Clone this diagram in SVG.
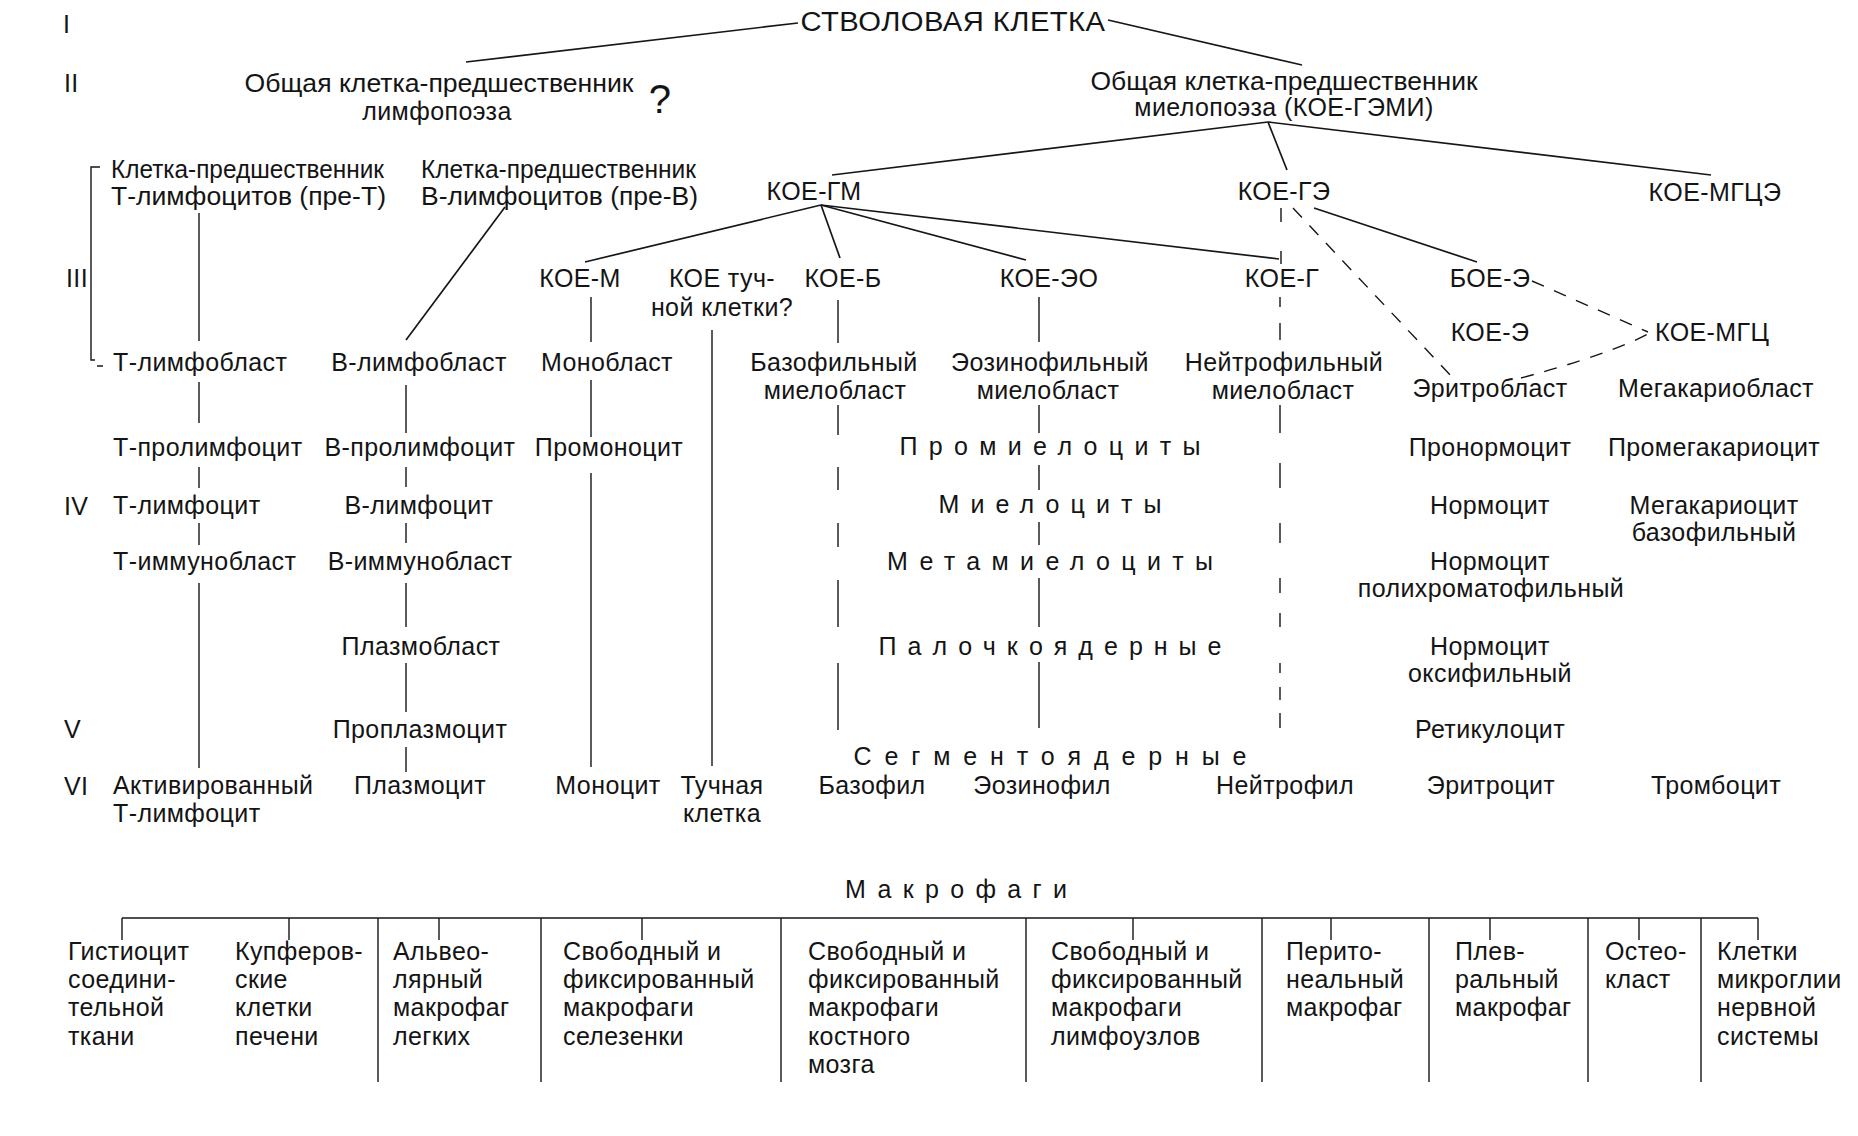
<svg xmlns="http://www.w3.org/2000/svg" width="1858" height="1136" viewBox="0 0 1858 1136">
<style>
text{font-family:"Liberation Sans",Arial,sans-serif;font-size:25px;fill:#141414;letter-spacing:0.4px}
.m{text-anchor:middle}
.sp{letter-spacing:0}
.ln{stroke:#161616;stroke-width:1.7;fill:none;stroke-linecap:butt}
.v{stroke:#161616;stroke-width:1.4;fill:none}
.d{stroke-dasharray:13 11}
</style>
<rect width="1858" height="1136" fill="#fff"/>

<g id="connectors">
  <!-- stem cell -->
  <path class="ln" d="M798,23 L466,62"/>
  <path class="ln" d="M1108,20 L1302,65"/>
  <!-- myelopoiesis fan -->
  <path class="ln" d="M1268,122 L832,175"/>
  <path class="ln" d="M1268,122 L1287,170"/>
  <path class="ln" d="M1268,122 L1711,175"/>
  <!-- KOE-GM fan -->
  <path class="ln" d="M821,205 L585,262"/>
  <path class="ln" d="M821,205 L840,258"/>
  <path class="ln" d="M821,205 L1026,260"/>
  <path class="ln" d="M821,205 L1279,259"/>
  <!-- KOE-GE branches -->
  <path class="ln" d="M1314,208 L1477,262"/>
  <path class="v d" d="M1293,208 L1452,377"/>
  <path class="v" d="M1281,208 V222 M1281,251 V264"/>
  <path class="v d" d="M1532,281 L1648,332"/>
  <path class="v d" d="M1521,378 Q1610,354 1648,334"/>
  <!-- bracket -->
  <path class="v" d="M100,167 H91 V360 H95 M97,366 H103"/>
  <!-- T lineage -->
  <path class="v" d="M199,213 V341 M199,382 V423 M199,467 V488 M199,523 V545 M199,583 V768"/>
  <!-- B lineage -->
  <path class="ln" d="M505,207 L406,340"/>
  <path class="v" d="M406,385 V433 M406,467 V487 M406,523 V543 M406,583 V627 M406,663 V712 M406,747 V772"/>
  <!-- monocyte -->
  <path class="v" d="M591,297 V342 M591,380 V437 M591,473 V767"/>
  <!-- mast cell -->
  <path class="v" d="M712,330 V766"/>
  <!-- basophil -->
  <path class="v" d="M838,300 V343 M838,405 V435 M838,467 V490 M838,523 V547 M838,580 V627 M838,663 V730"/>
  <!-- eosinophil -->
  <path class="v" d="M1039,297 V342 M1039,405 V433 M1039,465 V490 M1039,522 V545 M1039,578 V627 M1039,662 V728"/>
  <!-- neutrophil (dashed) -->
  <path class="v" d="M1280,297 V307 M1280,323 V340 M1280,405 V433 M1280,463 V488 M1280,523 V543 M1280,578 V593 M1280,613 V627 M1280,663 V673 M1280,687 V700 M1280,713 V728"/>
  <!-- macrophage bar -->
  <path class="ln" d="M122,918 H1758"/>
  <path class="v" d="M122,918 V940 M289,918 V940 M439,918 V940 M642,918 V940 M1133,918 V940 M1331,918 V940 M1490,918 V940 M1639,918 V940 M1758,918 V940"/>
  <path class="v" d="M378,918 V1082 M541,918 V1082 M781,918 V1082 M1026,918 V1082 M1262,918 V1082 M1429,918 V1082 M1588,918 V1082 M1701,918 V1082"/>
</g>

<g id="levels">
  <text x="63" y="33">I</text>
  <text x="64" y="92">II</text>
  <text x="66" y="287">III</text>
  <text x="64" y="515">IV</text>
  <text x="64" y="738">V</text>
  <text x="64" y="795">VI</text>
</g>

<g id="stem"><text class="m" x="953" y="31" style="font-size:27px" textLength="305" lengthAdjust="spacingAndGlyphs">СТВОЛОВАЯ КЛЕТКА</text></g>
<g id="lymph-progenitor">
  <text class="m sp" x="439" y="92" textLength="389" lengthAdjust="spacingAndGlyphs">Общая клетка-предшественник</text>
  <text class="m" x="437" y="120">лимфопоэза</text>
  <text class="m" x="660" y="113" style="font-size:40px">?</text>
</g>
<g id="myelo-progenitor">
  <text class="m sp" x="1284" y="90" textLength="387" lengthAdjust="spacingAndGlyphs">Общая клетка-предшественник</text>
  <text class="m" x="1284" y="116">миелопоэза (КОЕ-ГЭМИ)</text>
</g>
<g id="pre-t"><text class="sp" x="111" y="178" textLength="273" lengthAdjust="spacingAndGlyphs">Клетка-предшественник</text><text class="sp" x="111" y="205" textLength="275" lengthAdjust="spacingAndGlyphs">Т-лимфоцитов (пре-Т)</text></g>
<g id="pre-b"><text class="sp" x="421" y="178" textLength="275" lengthAdjust="spacingAndGlyphs">Клетка-предшественник</text><text class="sp" x="421" y="205" textLength="277" lengthAdjust="spacingAndGlyphs">В-лимфоцитов (пре-В)</text></g>
<g id="koe-gm"><text class="m" x="814" y="200">КОЕ-ГМ</text></g>
<g id="koe-ge"><text class="m" x="1284" y="200">КОЕ-ГЭ</text></g>
<g id="koe-mgce"><text class="m" x="1715" y="201">КОЕ-МГЦЭ</text></g>

<g id="koe-m"><text class="m" x="580" y="287">КОЕ-М</text></g>
<g id="koe-mast"><text class="m" x="722" y="287">КОЕ туч-</text><text class="m" x="722" y="316">ной клетки?</text></g>
<g id="koe-b"><text class="m" x="843" y="287">КОЕ-Б</text></g>
<g id="koe-eo"><text class="m" x="1049" y="287">КОЕ-ЭО</text></g>
<g id="koe-g"><text class="m" x="1282" y="287">КОЕ-Г</text></g>
<g id="boe-e"><text class="m" x="1490" y="287">БОЕ-Э</text></g>
<g id="koe-e"><text class="m" x="1490" y="341">КОЕ-Э</text></g>
<g id="koe-mgc"><text x="1655" y="341">КОЕ-МГЦ</text></g>

<g id="t-lineage">
  <text x="113" y="371">Т-лимфобласт</text>
  <text x="113" y="456">Т-пролимфоцит</text>
  <text x="113" y="514">Т-лимфоцит</text>
  <text x="113" y="570">Т-иммунобласт</text>
  <text x="113" y="794">Активированный</text>
  <text x="113" y="822">Т-лимфоцит</text>
</g>
<g id="b-lineage">
  <text class="m" x="419" y="371">В-лимфобласт</text>
  <text class="m" x="420" y="456">В-пролимфоцит</text>
  <text class="m" x="419" y="514">В-лимфоцит</text>
  <text class="m" x="420" y="570">В-иммунобласт</text>
  <text class="m" x="421" y="655">Плазмобласт</text>
  <text class="m" x="420" y="738">Проплазмоцит</text>
  <text class="m" x="420" y="794">Плазмоцит</text>
</g>
<g id="mono-lineage">
  <text class="m" x="607" y="371">Монобласт</text>
  <text class="m" x="609" y="456">Промоноцит</text>
  <text class="m" x="608" y="794">Моноцит</text>
</g>
<g id="mast-cell"><text class="m" x="722" y="794">Тучная</text><text class="m" x="722" y="822">клетка</text></g>
<g id="baso-lineage">
  <text class="m" x="834" y="371">Базофильный</text>
  <text class="m" x="835" y="399">миелобласт</text>
  <text class="m" x="872" y="794">Базофил</text>
</g>
<g id="eo-lineage">
  <text class="m" x="1050" y="371">Эозинофильный</text>
  <text class="m" x="1048" y="399">миелобласт</text>
  <text class="m" x="1042" y="794">Эозинофил</text>
</g>
<g id="neutro-lineage">
  <text class="m" x="1284" y="371">Нейтрофильный</text>
  <text class="m" x="1283" y="399">миелобласт</text>
  <text class="m" x="1285" y="794">Нейтрофил</text>
</g>
<g id="granulocyte-stages">
  <text class="m sp" x="1050" y="455" textLength="301" lengthAdjust="spacing">Промиелоциты</text>
  <text class="m sp" x="1050" y="513" textLength="223" lengthAdjust="spacing">Миелоциты</text>
  <text class="m sp" x="1050" y="570" textLength="326" lengthAdjust="spacing">Метамиелоциты</text>
  <text class="m sp" x="1050" y="655" textLength="343" lengthAdjust="spacing">Палочкоядерные</text>
  <text class="m sp" x="1050" y="765" textLength="393" lengthAdjust="spacing">Сегментоядерные</text>
</g>
<g id="erythro-lineage">
  <text class="m" x="1490" y="397">Эритробласт</text>
  <text class="m" x="1490" y="456">Пронормоцит</text>
  <text class="m" x="1490" y="514">Нормоцит</text>
  <text class="m" x="1490" y="570">Нормоцит</text>
  <text class="m" x="1491" y="597">полихроматофильный</text>
  <text class="m" x="1490" y="655">Нормоцит</text>
  <text class="m" x="1490" y="682">оксифильный</text>
  <text class="m" x="1490" y="738">Ретикулоцит</text>
  <text class="m" x="1491" y="794">Эритроцит</text>
</g>
<g id="mega-lineage">
  <text class="m" x="1716" y="397">Мегакариобласт</text>
  <text class="m" x="1714" y="456">Промегакариоцит</text>
  <text class="m" x="1714" y="514">Мегакариоцит</text>
  <text class="m" x="1714" y="541">базофильный</text>
  <text class="m" x="1716" y="794">Тромбоцит</text>
</g>

<g id="macrophages"><text class="m sp" x="956" y="898" textLength="222" lengthAdjust="spacing">Макрофаги</text></g>
<g id="mac-1"><text x="68" y="960">Гистиоцит</text><text x="68" y="988">соедини-</text><text x="68" y="1016">тельной</text><text x="68" y="1045">ткани</text></g>
<g id="mac-2"><text x="235" y="960">Купферов-</text><text x="235" y="988">ские</text><text x="235" y="1016">клетки</text><text x="235" y="1045">печени</text></g>
<g id="mac-3"><text x="393" y="960">Альвео-</text><text x="393" y="988">лярный</text><text x="393" y="1016">макрофаг</text><text x="393" y="1045">легких</text></g>
<g id="mac-4"><text x="563" y="960">Свободный и</text><text x="563" y="988">фиксированный</text><text x="563" y="1016">макрофаги</text><text x="563" y="1045">селезенки</text></g>
<g id="mac-5"><text x="808" y="960">Свободный и</text><text x="808" y="988">фиксированный</text><text x="808" y="1016">макрофаги</text><text x="808" y="1045">костного</text><text x="808" y="1073">мозга</text></g>
<g id="mac-6"><text x="1051" y="960">Свободный и</text><text x="1051" y="988">фиксированный</text><text x="1051" y="1016">макрофаги</text><text x="1051" y="1045">лимфоузлов</text></g>
<g id="mac-7"><text x="1286" y="960">Перито-</text><text x="1286" y="988">неальный</text><text x="1286" y="1016">макрофаг</text></g>
<g id="mac-8"><text x="1455" y="960">Плев-</text><text x="1455" y="988">ральный</text><text x="1455" y="1016">макрофаг</text></g>
<g id="mac-9"><text x="1605" y="960">Остео-</text><text x="1605" y="988">класт</text></g>
<g id="mac-10"><text x="1717" y="960">Клетки</text><text x="1717" y="988">микроглии</text><text x="1717" y="1016">нервной</text><text x="1717" y="1045">системы</text></g>
</svg>
